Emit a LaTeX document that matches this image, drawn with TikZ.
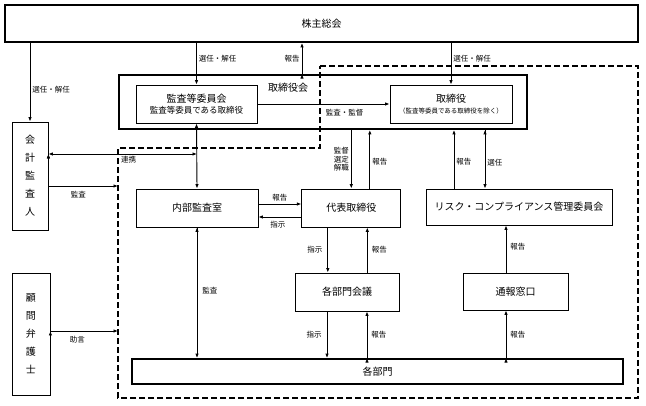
\documentclass[tikz,border=0pt]{standalone}
\usepackage{fontspec}
\setmainfont{Noto Sans CJK JP}
\usepackage{tikz}
\usetikzlibrary{positioning, arrows.meta}

\tikzset{
  box/.style={draw, line width=0.8pt, inner sep=0pt, align=center,
    font=\fontsize{10}{12}\selectfont},
  bigbox/.style={box, line width=1.8pt},
  tatebox/.style={box, font=\fontsize{10}{18}\selectfont},
  lbl/.style={font=\fontsize{7.5}{8.5}\selectfont, inner sep=2pt, align=center},
  arr/.style={-{Latex[length=4.5pt,width=3.5pt]}, line width=0.9pt},
  darr/.style={{Latex[length=4.5pt,width=3.5pt]}-{Latex[length=4.5pt,width=3.5pt]}, line width=0.9pt},
}

\begin{document}
\begin{tikzpicture}[x=1pt, y=-1pt]
    \useasboundingbox (0,0) rectangle (646,406);

    % dashed area
    \draw[line width=1.6pt, dash pattern=on 6pt off 3pt]
      (320,66) -- (638,66) -- (638,398) -- (118,398) -- (118,148) -- (320,148) -- cycle;
    \coordinate (dashW) at (118,0);

    \node[bigbox, minimum width=633pt, minimum height=37pt] (kabu) at (321.5,23.5) {株主総会};
    \node[tatebox, minimum width=36pt, minimum height=108pt] (kaikei) at (30,176) {会\\計\\監\\査\\人};
    \node[tatebox, minimum width=38pt, minimum height=122pt] (komon) at (31,334) {顧\\問\\弁\\護\\士};

    \node[bigbox, minimum width=408pt, minimum height=54pt] (torikai) at (323,102) {};
    \node (torikailabel) at (288,88) {\fontsize{10}{12}\selectfont 取締役会};
    \node[box, minimum width=121pt, minimum height=38pt] (kansa) at (196.5,104)
      {監査等委員会\\[-1pt]{\fontsize{8.5}{10}\selectfont 監査等委員である取締役}};
    \node[box, minimum width=122pt, minimum height=38pt] (tori) at (451,104)
      {取締役\\[-1pt]{\fontsize{6.5}{8}\selectfont （監査等委員である取締役を除く）}};

    \node[box, minimum width=122pt, minimum height=38pt] (naibu) at (197,208) {内部監査室};
    \node[box, minimum width=99pt, minimum height=38pt] (daihyo) [right=43pt of naibu] {代表取締役};
    \node[box, minimum width=186pt, minimum height=36pt] (risk) at (519,207) {リスク・コンプライアンス管理委員会};
    \node[box, minimum width=104pt, minimum height=38pt] (kaigi) at (347,292) {各部門会議};
    \node[box, minimum width=105pt, minimum height=37pt] (tsuho) at (515.5,291.5) {通報窓口};
    \node[bigbox, minimum width=491pt, minimum height=25pt] (bumon) at (377.5,371.5) {各部門};

    % 株主総会
    \path[draw,arr]
    (kabu.south -| kaikei.north) edge node[lbl, right, pos=.6] {選任・解任} (kaikei.north)
    (kabu.south -| kansa.north) edge node[lbl, right, pos=.37] {選任・解任} (kansa.north)
    (kabu.south -| tori.north) edge node[lbl, right, pos=.37] {選任・解任} (tori.north)
    ([xshift=-21pt]torikai.north) edge node[lbl, left, pos=.5] {報告} ([xshift=-21pt]torikai.north |- kabu.south);

    % 取締役会
    \path[draw,arr]
    (kansa.east) edge node[lbl, below, pos=.66, yshift=-3pt] {監査・監督} (tori.west)
    (daihyo.north |- torikai.south) edge node[lbl, left, pos=.5] {監督\\選定\\解職} (daihyo.north)
    ([xshift=18.5pt]daihyo.north) edge node[lbl, right, pos=.45] {報告} ([xshift=18.5pt]daihyo.north |- torikai.south)
    ([xshift=-65pt]risk.north) edge node[lbl, right, pos=.45] {報告} ([xshift=-65pt]risk.north |- torikai.south)
    ([xshift=-34pt]risk.north |- torikai.south) edge node[lbl, right, pos=.55] {選任} ([xshift=-34pt]risk.north);

    % 監査等委員会・会計監査人
    \path[draw,darr]
    (kansa.south) edge (naibu.north)
    ([yshift=22pt]kaikei.east) edge node[lbl, below, pos=.54] {連携} ([yshift=22pt]kaikei.east -| naibu.north);

    \path[draw,arr]
    ([yshift=-10pt]kaikei.east) edge node[lbl, below, pos=.43, yshift=-3pt] {監査} ([yshift=-10pt]kaikei.east -| dashW)
    ([yshift=3pt]komon.east) edge node[lbl, below, pos=.4, yshift=-3pt] {助言} ([yshift=3pt]komon.east -| dashW);

    % 内部監査室
    \path[draw,arr]
    ([yshift=4pt]naibu.east) edge node[lbl, above, pos=.5] {報告} ([yshift=4pt]naibu.east -| daihyo.west)
    ([yshift=-9pt]daihyo.west) edge node[lbl, below, pos=.55, yshift=-2pt] {指示} ([yshift=-9pt]daihyo.west -| naibu.east)
    (naibu.south) edge node[lbl, right, pos=.48, xshift=3pt] {監査} (naibu.south |- bumon.north);

    % 代表取締役・各部門会議
    \path[draw,arr]
    ([xshift=-23.5pt]daihyo.south) edge node[lbl, left, pos=.5, xshift=-3pt] {指示} ([xshift=-23.5pt]daihyo.south |- kaigi.north)
    ([xshift=16pt]daihyo.south |- kaigi.north) edge node[lbl, right, pos=.5, xshift=2pt] {報告} ([xshift=16pt]daihyo.south)
    ([xshift=-20pt]kaigi.south) edge node[lbl, left, pos=.5, xshift=-3pt] {指示} ([xshift=-20pt]kaigi.south |- bumon.north)
    ([xshift=20pt]kaigi.south |- bumon.north) edge node[lbl, right, pos=.5, xshift=2pt] {報告} ([xshift=20pt]kaigi.south);

    % 通報窓口
    \path[draw,arr]
    ([xshift=-9.5pt]tsuho.north) edge node[lbl, right, pos=.55, xshift=2pt] {報告} ([xshift=-9.5pt]tsuho.north |- risk.south)
    ([xshift=-9.5pt]tsuho.south |- bumon.north) edge node[lbl, right, pos=.5, xshift=2pt] {報告} ([xshift=-9.5pt]tsuho.south);
\end{tikzpicture}
\end{document}
